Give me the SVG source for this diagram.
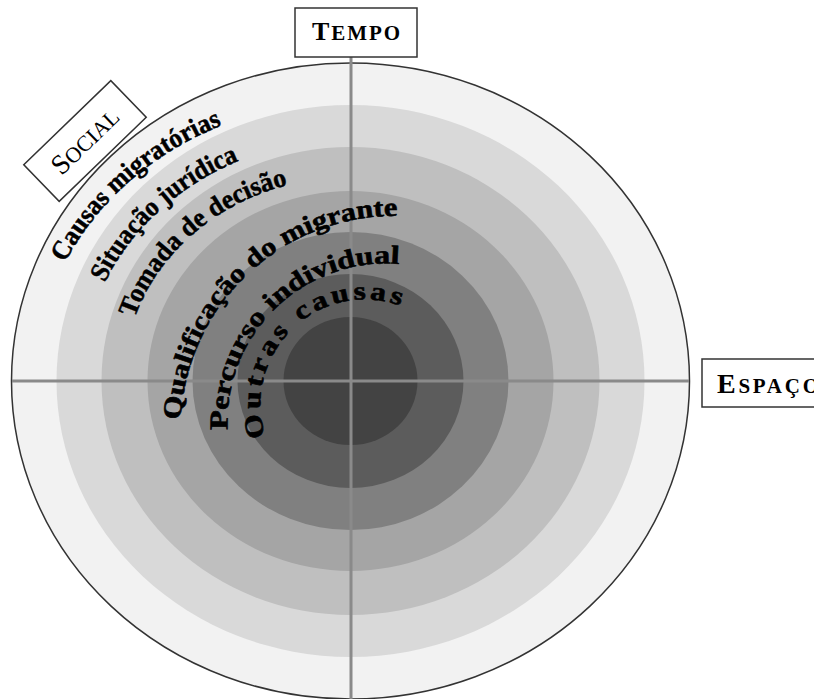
<svg xmlns="http://www.w3.org/2000/svg" width="814" height="699" viewBox="0 0 814 699">
<style>
.lbl{font-family:"Liberation Serif","Times New Roman",serif;font-weight:bold;font-size:27px;fill:#000;stroke:#000;stroke-width:0.5}
.lbl2{font-family:"Liberation Serif","Times New Roman",serif;font-weight:bold;font-size:26px;fill:#000;stroke:#000;stroke-width:0.6}
.box{fill:#fff;stroke:#333;stroke-width:1.5}
.axis{stroke:#8a8a8a;stroke-width:3;fill:none}
.cap{font-family:"Liberation Serif","Times New Roman",serif;fill:#000}
</style>
<defs>
<path id="p1" d="M65.0,262.7 A315,280 0 0 1 274.3,109.3"/>
<path id="p2" d="M104.8,282.6 A269,242 0 0 1 283.1,146.7"/>
<path id="p3" d="M134.6,318.0 A227,204 0 0 1 326.8,178.1"/>
<path id="p4" d="M180.7,419.9 A214,214 0 0 1 434.2,219.7"/>
<path id="p5" d="M227.7,430.0 A158.5,158.5 0 0 1 426.2,268.7"/>
<path id="p6" d="M265.8,436.8 A104.5,104.5 0 0 1 420.2,315.3"/>
</defs>
<g id="rings">
<ellipse cx="350.5" cy="381" rx="339" ry="318" fill="#f2f2f2" stroke="#333" stroke-width="1.5"/>
<ellipse cx="350.5" cy="381" rx="294" ry="276" fill="#d9d9d9"/>
<ellipse cx="350.5" cy="381" rx="249" ry="234" fill="#bfbfbf"/>
<ellipse cx="350.5" cy="381" rx="203" ry="190" fill="#a5a5a5"/>
<ellipse cx="350.5" cy="381" rx="158" ry="149" fill="#808080"/>
<ellipse cx="350.5" cy="381" rx="113" ry="107" fill="#5c5c5c"/>
<ellipse cx="350.5" cy="381" rx="67" ry="64" fill="#434343"/>
</g>
<g id="connectors">
<line class="axis" x1="351" y1="57" x2="351" y2="699"/>
<line class="axis" x1="12" y1="381" x2="689" y2="381"/>
</g>
<g id="ring-labels">
<text class="lbl"><textPath href="#p1" textLength="213" lengthAdjust="spacingAndGlyphs">Causas migratórias</textPath></text>
<text class="lbl"><textPath href="#p2" textLength="185" lengthAdjust="spacingAndGlyphs">Situação jurídica</textPath></text>
<text class="lbl"><textPath href="#p3" textLength="211" lengthAdjust="spacingAndGlyphs">Tomada de decisão</textPath></text>
<text class="lbl2"><textPath href="#p4" textLength="329" lengthAdjust="spacingAndGlyphs">Qualificação do migrante</textPath></text>
<text class="lbl2"><textPath href="#p5" textLength="270" lengthAdjust="spacingAndGlyphs">Percurso individual</textPath></text>
<text class="lbl2" letter-spacing="3"><textPath href="#p6" textLength="237" lengthAdjust="spacingAndGlyphs">Outras causas</textPath></text>
</g>
<g id="tempo">
<rect class="box" x="295" y="8" width="122" height="49"/>
<text class="cap" x="356" y="40" text-anchor="middle" font-weight="bold" textLength="88"><tspan font-size="26">T</tspan><tspan font-size="21">EMPO</tspan></text>
</g>
<g id="espaco">
<rect class="box" x="702" y="359" width="130" height="48"/>
<text class="cap" x="717" y="393" font-weight="bold" textLength="102"><tspan font-size="28">E</tspan><tspan font-size="21">SPAÇO</tspan></text>
</g>
<g id="social" transform="translate(85,141) rotate(-44)">
<rect class="box" x="-60.5" y="-25.5" width="121" height="51"/>
<text class="cap" x="0" y="9" text-anchor="middle"><tspan font-size="28">S</tspan><tspan font-size="22">OCIAL</tspan></text>
</g>
</svg>
